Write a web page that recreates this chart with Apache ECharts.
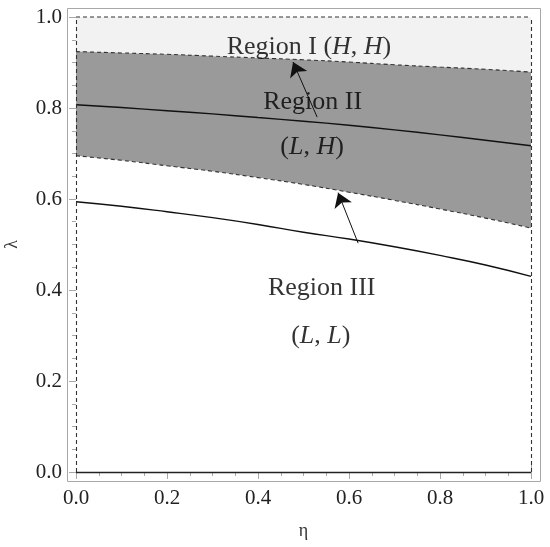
<!DOCTYPE html>
<html>
<head>
<meta charset="utf-8">
<script src="https://cdn.jsdelivr.net/npm/echarts@6/dist/echarts.min.js"></script>
<style>
  html, body { margin: 0; padding: 0; background: #fff; }
  #chart { width: 550px; height: 547px; }
</style>
</head>
<body>
<div id="chart"></div>
<script>
// eta sample points
var etaValues = [0, 0.1, 0.2, 0.3, 0.4, 0.5, 0.6, 0.7, 0.8, 0.9, 1.0];
// boundary between Region I and Region II (dashed)
var upperBoundary = [0.924, 0.921, 0.918, 0.914, 0.910, 0.906, 0.901, 0.895, 0.890, 0.885, 0.879];
// solid line inside Region II
var middleLine = [0.807, 0.801, 0.794, 0.787, 0.779, 0.771, 0.762, 0.752, 0.741, 0.729, 0.717];
// boundary between Region II and Region III (dashed)
var lowerBoundary = [0.695, 0.685, 0.673, 0.661, 0.647, 0.632, 0.615, 0.597, 0.578, 0.558, 0.536];
// solid line inside Region III
var lowerLine = [0.594, 0.584, 0.572, 0.559, 0.544, 0.527, 0.512, 0.495, 0.476, 0.455, 0.430];
// plot range of lambda
var lambdaTop = 1;
// arrows: [from, to]
var arrows = [
    [[0.530, 0.780], [0.477, 0.901]],
    [[0.620, 0.503], [0.576, 0.614]]
];
// region labels
var regionLabels = [
    { pos: [0.512, 0.934], text: '{r|Region I (}{i|H}{r|, }{i|H}{r|)}' },
    { pos: [0.520, 0.813], text: '{r|Region II}' },
    { pos: [0.519, 0.714], text: '{r|(}{i|L}{r|, }{i|H}{r|)}' },
    { pos: [0.540, 0.404], text: '{r|Region III}' },
    { pos: [0.538, 0.299], text: '{r|(}{i|L}{r|, }{i|L}{r|)}' }
];

function pairs(ys) {
    return etaValues.map(function (x, i) { return [x, ys[i]]; });
}

var serif = 'Liberation Serif';
var frameColor = '#a8a8a8';
var dashColor = '#333333';
var dashType = [4, 3];

var myChart = echarts.init(document.getElementById('chart'));

function frameAxis(extra) {
    var base = {
        type: 'value',
        min: 0,
        max: 1,
        interval: 0.2,
        axisLine: { show: false },
        axisTick: { show: true, inside: true, length: 7, lineStyle: { color: frameColor, width: 1 } },
        minorTick: { show: true, splitNumber: 4, length: 4, lineStyle: { color: frameColor, width: 1 } },
        splitLine: { show: false },
        axisLabel: { show: false }
    };
    return Object.assign(base, extra);
}

var labelStyle = {
    show: true,
    color: '#222',
    fontFamily: serif,
    fontSize: 21,
    formatter: function (v) { return v.toFixed(1); }
};

var option = {
    animation: false,
    grid: { left: 76, right: 19, top: 17, bottom: 75, outerBoundsMode: 'none', containLabel: false },
    xAxis: [
        frameAxis({
            position: 'bottom', offset: 10,
            axisLabel: Object.assign({ margin: 6 }, labelStyle),
            name: 'η', nameLocation: 'middle', nameGap: 40,
            nameTextStyle: { fontFamily: serif, fontSize: 18, color: '#333' }
        }),
        frameAxis({ position: 'top', offset: 10 })
    ],
    yAxis: [
        frameAxis({
            position: 'left', offset: 9,
            axisLabel: Object.assign({ margin: 5 }, labelStyle),
            name: 'λ', nameLocation: 'middle', nameGap: 46,
            nameTextStyle: { fontFamily: serif, fontSize: 18, color: '#333' }
        }),
        frameAxis({ position: 'right', offset: 10 })
    ],
    series: [
        {
            // Region I fill and dashed top edge
            type: 'line',
            data: pairs(etaValues.map(function () { return lambdaTop; })),
            showSymbol: false,
            clip: false,
            lineStyle: { color: dashColor, width: 1.1, type: dashType },
            areaStyle: { color: '#f2f2f2', opacity: 1, origin: 'start' },
            markLine: {
                silent: true,
                symbol: 'none',
                label: { show: false },
                data: [
                    { xAxis: 0, lineStyle: { color: dashColor, width: 1.1, type: dashType } },
                    { xAxis: 1, lineStyle: { color: dashColor, width: 1.1, type: dashType } },
                    { yAxis: 0, lineStyle: { color: '#222', width: 1.3, type: 'solid' } }
                ]
            },
            z: 1
        },
        {
            // Region II fill
            type: 'line',
            data: pairs(upperBoundary),
            showSymbol: false,
            smooth: true,
            clip: false,
            lineStyle: { color: dashColor, width: 1.1, type: dashType },
            areaStyle: { color: '#9a9a9a', opacity: 1, origin: 'start' },
            z: 2
        },
        {
            // Region III (white)
            type: 'line',
            data: pairs(lowerBoundary),
            showSymbol: false,
            smooth: true,
            clip: false,
            lineStyle: { color: dashColor, width: 1.1, type: dashType },
            areaStyle: { color: '#ffffff', opacity: 1, origin: 'start' },
            z: 3
        },
        {
            type: 'line',
            data: pairs(middleLine),
            showSymbol: false,
            smooth: true,
            clip: false,
            lineStyle: { color: '#111', width: 1.4 },
            z: 4
        },
        {
            type: 'line',
            data: pairs(lowerLine),
            showSymbol: false,
            smooth: true,
            clip: false,
            lineStyle: { color: '#111', width: 1.4 },
            z: 4
        },
        {
            type: 'lines',
            coordinateSystem: 'cartesian2d',
            symbol: ['none', 'arrow'],
            symbolSize: 14,
            lineStyle: { color: '#111', width: 1, opacity: 1 },
            data: arrows.map(function (a) { return { coords: a }; }),
            z: 5
        },
        {
            type: 'scatter',
            symbolSize: 0,
            data: regionLabels.map(function (l) {
                return {
                    value: l.pos,
                    label: { formatter: l.text }
                };
            }),
            label: {
                show: true,
                position: 'inside',
                rich: {
                    r: { fontFamily: serif, fontSize: 26, color: '#000' },
                    i: { fontFamily: serif, fontSize: 26, color: '#000', fontStyle: 'italic' }
                }
            },
            z: 6
        }
    ]
};

myChart.setOption(option);

// outer gray frame, 2% padding around the plot range
var p0 = myChart.convertToPixel({ gridIndex: 0 }, [-0.02, 1.02]);
var p1 = myChart.convertToPixel({ gridIndex: 0 }, [1.02, -0.02]);
myChart.setOption({
    graphic: [{
        type: 'rect',
        shape: { x: Math.round(p0[0]) + 0.5, y: Math.round(p0[1]) + 0.5, width: Math.round(p1[0] - p0[0]), height: Math.round(p1[1] - p0[1]) },
        style: { fill: 'none', stroke: frameColor, lineWidth: 1 },
        z: 10
    }]
});
</script>
</body>
</html>
